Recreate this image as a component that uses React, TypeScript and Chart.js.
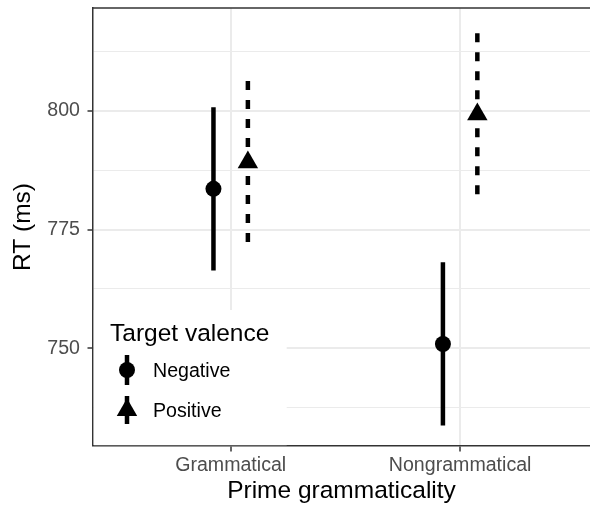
import React, { useEffect, useRef } from 'react';
import { Chart, registerables } from 'chart.js';

Chart.register(...registerables);

const categories = ['Grammatical', 'Nongrammatical'];
const groups = ['Negative', 'Positive'];
const negativeMean = [783.6, 750.9];
const negativeLow = [766.4, 733.7];
const negativeHigh = [800.8, 768.1];
const positiveMean = [789.2, 799.3];
const positiveLow = [771.8, 781.9];
const positiveHigh = [806.3, 816.4];
const yTickValues = [737.5, 750, 762.5, 775, 787.5, 800, 812.5];
const yTickLabels = [750, 775, 800];

const FONT = "'Liberation Sans', Arial, Helvetica, sans-serif";
const DODGE = 0.075;
const LINE_W = 4.5;
const DASH = [9, 10];
const CIRCLE_R = 8;
const TRI_R = 11.8;

const isMajor = (v: number) => yTickLabels.includes(v);

function drawTriangle(ctx: CanvasRenderingContext2D, x: number, y: number, r: number) {
  let rad = 0;
  ctx.beginPath();
  ctx.moveTo(x + Math.sin(rad) * r, y - Math.cos(rad) * r);
  rad += (2 * Math.PI) / 3;
  ctx.lineTo(x + Math.sin(rad) * r, y - Math.cos(rad) * r);
  rad += (2 * Math.PI) / 3;
  ctx.lineTo(x + Math.sin(rad) * r, y - Math.cos(rad) * r);
  ctx.closePath();
  ctx.fill();
}

const panelPlugin = {
  id: 'panelExtras',
  beforeDatasetsDraw(chart: any) {
    const ctx: CanvasRenderingContext2D = chart.ctx;
    const a = chart.chartArea;
    ctx.save();
    ctx.beginPath();
    ctx.strokeStyle = '#333333';
    ctx.lineWidth = 1.5;
    ctx.moveTo(a.left - 0.75, a.top);
    ctx.lineTo(chart.width + 2, a.top);
    ctx.stroke();
    ctx.beginPath();

    const legTop = 310;
    const legRight = 286.7;
    ctx.fillStyle = '#ffffff';
    ctx.fillRect(a.left + 0.8, legTop, legRight - a.left - 0.8, a.bottom - 0.8 - legTop);

    ctx.fillStyle = '#000000';
    ctx.textAlign = 'left';
    ctx.textBaseline = 'alphabetic';
    ctx.font = `24.5px ${FONT}`;
    ctx.fillText('Target valence', 110, 340.7);

    const keyX = 127;
    const rows = [370, 410];
    ctx.font = `19.6px ${FONT}`;
    groups.forEach((g, i) => {
      const cy = rows[i];
      ctx.strokeStyle = '#000000';
      ctx.lineWidth = LINE_W;
      ctx.lineCap = 'butt';
      ctx.beginPath();
      if (i === 0) {
        ctx.setLineDash([]);
        ctx.moveTo(keyX, cy - 15);
        ctx.lineTo(keyX, cy + 15);
      } else {
        ctx.setLineDash(DASH);
        ctx.moveTo(keyX, cy - 14);
        ctx.lineTo(keyX, cy + 15);
      }
      ctx.stroke();
      ctx.setLineDash([]);
      ctx.fillStyle = '#000000';
      if (i === 0) {
        ctx.beginPath();
        ctx.arc(keyX, cy, CIRCLE_R, 0, Math.PI * 2);
        ctx.fill();
      } else {
        drawTriangle(ctx, keyX, cy, TRI_R);
      }
      ctx.fillText(g, 153, cy + 7.3);
    });
    ctx.beginPath();
    ctx.restore();
  },
};

const zeroPad = (s: any) => {
  s.paddingTop = 0;
  s.paddingBottom = 0;
  s.paddingLeft = 0;
  s.paddingRight = 0;
};

export default function App() {
  const ref = useRef<HTMLCanvasElement | null>(null);

  useEffect(() => {
    if (!ref.current) return;
    const pos = categories.map((_, i) => i + 1);

    const pointDatasets: any[] = [
      {
        label: groups[0],
        data: pos.map((p, i) => ({ x: p - DODGE, y: negativeMean[i] })),
        pointStyle: 'circle',
        pointRadius: CIRCLE_R,
        pointHoverRadius: CIRCLE_R,
        backgroundColor: '#000000',
        borderColor: '#000000',
        borderWidth: 0,
        showLine: false,
        clip: false,
      },
      {
        label: groups[1],
        data: pos.map((p, i) => ({ x: p + DODGE, y: positiveMean[i] })),
        pointStyle: 'triangle',
        pointRadius: TRI_R,
        pointHoverRadius: TRI_R,
        backgroundColor: '#000000',
        borderColor: '#000000',
        borderWidth: 0,
        showLine: false,
        clip: false,
      },
    ];

    const barDatasets: any[] = pos.flatMap((p, i) => [
      {
        label: `${groups[0]} ${categories[i]} range`,
        data: [
          { x: p - DODGE, y: negativeHigh[i] },
          { x: p - DODGE, y: negativeLow[i] },
        ],
        showLine: true,
        fill: false,
        borderColor: '#000000',
        borderWidth: LINE_W,
        borderCapStyle: 'butt',
        pointRadius: 0,
        pointHoverRadius: 0,
        clip: false,
      },
      {
        label: `${groups[1]} ${categories[i]} range`,
        data: [
          { x: p + DODGE, y: positiveHigh[i] },
          { x: p + DODGE, y: positiveLow[i] },
        ],
        showLine: true,
        fill: false,
        borderColor: '#000000',
        borderWidth: LINE_W,
        borderCapStyle: 'butt',
        borderDash: DASH,
        pointRadius: 0,
        pointHoverRadius: 0,
        clip: false,
      },
    ]);

    const chart = new Chart(ref.current, {
      type: 'scatter',
      data: { datasets: [...pointDatasets, ...barDatasets] },
      plugins: [panelPlugin],
      options: {
        animation: false,
        responsive: false,
        devicePixelRatio: 1,
        events: [],
        layout: { autoPadding: false, padding: { top: 8, right: 0, left: 0, bottom: 0 } },
        plugins: {
          legend: { display: false },
          tooltip: { enabled: false },
        },
        scales: {
          x: {
            type: 'linear',
            min: 0.4,
            max: 2.566,
            afterBuildTicks: (s: any) => {
              s.ticks = pos.map((v) => ({ value: v }));
            },
            afterFit: (s: any) => {
              s.height = 62;
              zeroPad(s);
            },
            ticks: {
              callback: (v: any) => categories[Math.round(Number(v)) - 1] ?? '',
              color: '#4D4D4D',
              font: { size: 19.6, family: FONT },
              padding: 2,
              maxRotation: 0,
              autoSkip: false,
            },
            grid: {
              color: '#EBEBEB',
              lineWidth: 2,
              tickLength: 5.5,
              tickColor: '#333333',
              tickWidth: 1.5,
            },
            border: { display: true, color: '#333333', width: 1.5 },
            title: {
              display: true,
              text: 'Prime grammaticality',
              color: '#000000',
              font: { size: 24.5, family: FONT },
              padding: { top: 0, bottom: 1.8 },
            },
          },
          y: {
            type: 'linear',
            min: 729.4,
            max: 821.7,
            afterBuildTicks: (s: any) => {
              s.ticks = yTickValues.map((v) => ({ value: v }));
            },
            afterFit: (s: any) => {
              s.width = 93;
              zeroPad(s);
            },
            ticks: {
              callback: (v: any) => (isMajor(Number(v)) ? String(v) : ''),
              color: '#4D4D4D',
              font: { size: 19.6, family: FONT },
              padding: 7.5,
              autoSkip: false,
            },
            grid: {
              color: '#EBEBEB',
              lineWidth: (c: any) => (c.tick && isMajor(c.tick.value) ? 2 : 1.1),
              tickLength: 5.5,
              tickColor: (c: any) => (c.tick && isMajor(c.tick.value) ? '#333333' : 'rgba(0,0,0,0)'),
              tickWidth: 1.5,
            },
            border: { display: true, color: '#333333', width: 1.5 },
            title: {
              display: true,
              text: 'RT (ms)',
              color: '#000000',
              font: { size: 24.5, family: FONT },
              padding: { top: 8.5, bottom: 0 },
            },
          },
        },
      } as any,
    });
    return () => chart.destroy();
  }, []);

  return (
    <div
      style={{
        position: 'fixed',
        left: 0,
        top: 0,
        width: 590,
        height: 508,
        overflow: 'hidden',
        background: '#ffffff',
      }}
    >
      <canvas ref={ref} width={590} height={508} style={{ display: 'block' }} />
    </div>
  );
}
